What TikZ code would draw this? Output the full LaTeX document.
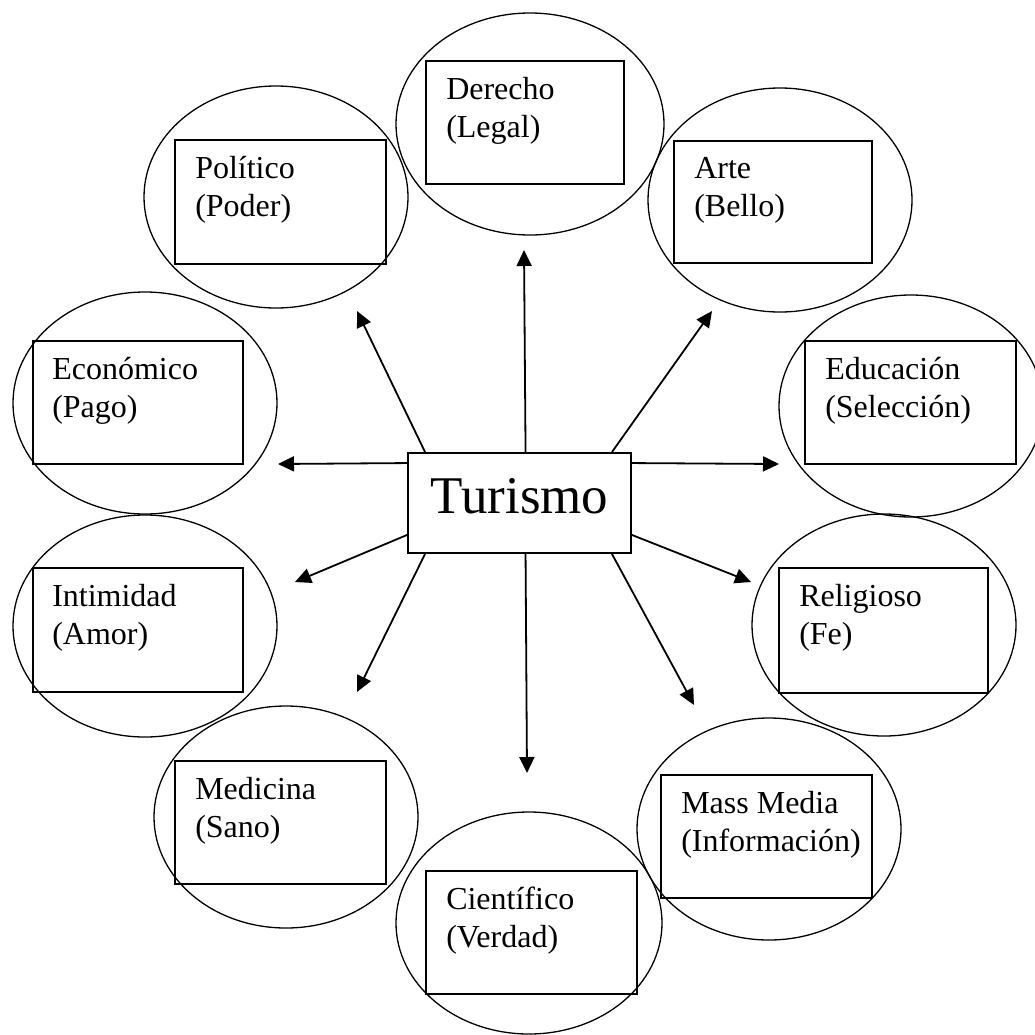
\documentclass[tikz,border=0pt]{standalone}
\usepackage{fontspec}
\setmainfont{Liberation Serif}
\usetikzlibrary{arrows.meta,shapes.geometric,calc}
\newcommand{\twoln}[2]{\begin{tabular}[t]{@{}l@{}}#1\\#2\end{tabular}}
\begin{document}
\begin{tikzpicture}[x=1pt,y=-1pt,
  oval/.style={ellipse,draw,line width=1.3pt,inner sep=0pt,minimum width=264pt,minimum height=222pt},
  box/.style={rectangle,draw,line width=1.9pt,inner sep=0pt},
  lbl/.style={anchor=base west,inner sep=0pt,font=\fontsize{32}{38}\selectfont},
  arr/.style={line width=1.8pt,-{Triangle[length=16pt,width=15pt]}}]
\useasboundingbox (0,0) rectangle (1035,1034);

% ellipses
\node[oval,minimum width=268pt] (oDer) at (530,124) {};
\node[oval] (oPol) at (276,197) {};
\node[oval,minimum height=224pt] (oArt) at (780,200) {};
\node[oval] (oEco) at (145,403) {};
\node[oval] (oEdu) at (911,406) {};
\node[oval] (oInt) at (145,626) {};
\node[oval] (oRel) at (884,625) {};
\node[oval] (oMed) at (286,817) {};
\node[oval] (oMas) at (769,829) {};
\node[oval,minimum width=266pt] (oCie) at (529,923) {};

% boxes
\node[box,minimum width=198pt,minimum height=123pt] (der) at (525,122.5) {};
\node[box,minimum width=211pt,minimum height=124pt] (pol) at (280.5,202) {};
\node[box,minimum width=198pt,minimum height=122pt] (art) at (773,202) {};
\node[box,minimum width=210pt,minimum height=123pt] (eco) at (138,402.5) {};
\node[box,minimum width=211pt,minimum height=123pt] (edu) at (910.5,402.5) {};
\node[box,minimum width=210pt,minimum height=124pt] (int) at (138,630) {};
\node[box,minimum width=209pt,minimum height=125pt] (rel) at (883.5,630.5) {};
\node[box,minimum width=211pt,minimum height=123pt] (med) at (280.5,822.5) {};
\node[box,minimum width=211pt,minimum height=123pt] (mas) at (766.5,836.5) {};
\node[box,minimum width=211pt,minimum height=123pt] (cie) at (531.5,932.5) {};

% labels
\node[lbl] (tDer) at ($(der.north west)+(21,39)$) {\twoln{Derecho}{(Legal)}};
\node[lbl] (tPol) at ($(pol.north west)+(21,39)$) {\twoln{Político}{(Poder)}};
\node[lbl] (tArt) at ($(art.north west)+(21,38)$) {\twoln{Arte}{(Bello)}};
\node[lbl] (tEco) at ($(eco.north west)+(20,39)$) {\twoln{Económico}{(Pago)}};
\node[lbl] (tEdu) at ($(edu.north west)+(21,39)$) {\twoln{Educación}{(Selección)}};
\node[lbl] (tInt) at ($(int.north west)+(20,39)$) {\twoln{Intimidad}{(Amor)}};
\node[lbl] (tRel) at ($(rel.north west)+(21,39)$) {\twoln{Religioso}{(Fe)}};
\node[lbl] (tMed) at ($(med.north west)+(21,39)$) {\twoln{Medicina}{(Sano)}};
\node[lbl] (tMas) at ($(mas.north west)+(21,39)$) {\twoln{Mass Media}{(Información)}};
\node[lbl] (tCie) at ($(cie.north west)+(21,39)$) {\twoln{Científico}{(Verdad)}};

% centre
\node[box,minimum width=223pt,minimum height=100pt,font=\fontsize{53}{62}\selectfont,
      text height=36pt,text depth=16pt] (tur) at (519.5,503) {Turismo};

% arrow ends
\coordinate (eDer) at (524,250);
\coordinate (ePol) at (357,311);
\coordinate (eArt) at (712,311);
\coordinate (eEco) at (278,464);
\coordinate (eEdu) at (779,464);
\coordinate (eInt) at (295,582);
\coordinate (eRel) at (751,582);
\coordinate (eMed) at (357,692);
\coordinate (eMas) at (694,705);
\coordinate (eCie) at (527,773);

\draw[arr] ($(tur.north west)+(118.5,0)$) -- (eDer);
\draw[arr] ($(tur.north west)+(18,0)$) -- (ePol);
\draw[arr] ($(tur.north east)+(-20,0)$) -- (eArt);
\draw[arr] ($(tur.north west)+(0,11)$) -- (eEco);
\draw[arr] ($(tur.north east)+(0,11)$) -- (eEdu);
\draw[arr] ($(tur.south west)+(0,-19)$) -- (eInt);
\draw[arr] ($(tur.south east)+(0,-19)$) -- (eRel);
\draw[arr] ($(tur.south west)+(18,0)$) -- (eMed);
\draw[arr] ($(tur.south east)+(-20,0)$) -- (eMas);
\draw[arr] ($(tur.south west)+(118.5,0)$) -- (eCie);
\end{tikzpicture}
\end{document}
